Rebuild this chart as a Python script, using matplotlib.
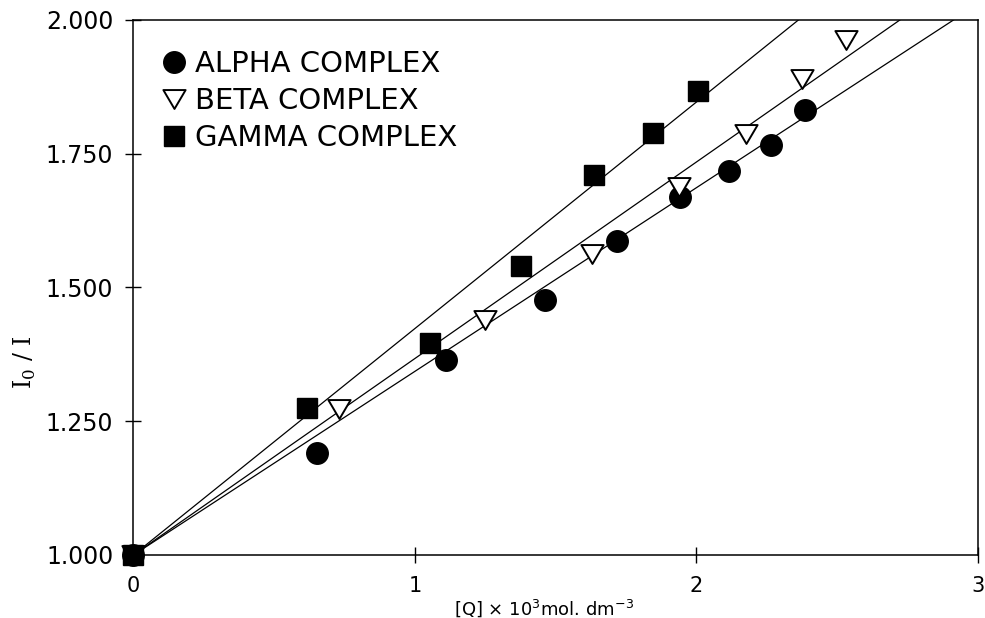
import matplotlib
matplotlib.use("Agg")
import matplotlib.pyplot as plt
from matplotlib.path import Path
import numpy as np

# Data
alpha_x = [0.0, 0.652, 1.111, 1.461, 1.719, 1.941, 2.116, 2.264, 2.385]
alpha_y = [1.000, 1.190, 1.364, 1.477, 1.587, 1.669, 1.718, 1.766, 1.832]
beta_x = [0.0, 0.729, 1.248, 1.628, 1.938, 2.178, 2.377, 2.534]
beta_y = [1.000, 1.272, 1.439, 1.563, 1.688, 1.787, 1.890, 1.962]
gamma_x = [0.0, 0.617, 1.053, 1.378, 1.638, 1.847, 2.006]
gamma_y = [1.000, 1.275, 1.396, 1.540, 1.710, 1.789, 1.867]
# Stern-Volmer slopes of the fitted lines (through 1.0 at origin)
ksv = {"alpha": 0.343, "beta": 0.367, "gamma": 0.423}
labels = ["ALPHA COMPLEX", "BETA COMPLEX", "GAMMA COMPLEX"]
xticks = [0, 1, 2, 3]
yticks = [1.000, 1.250, 1.500, 1.750, 2.000]
ytick_labels = ["1.000", "1.250", "1.500", "1.750", "2.000"]

fig = plt.figure(figsize=(9.85, 6.18), dpi=100)
ax = fig.add_axes([0.1355, 0.102, 0.857, 0.866])

xl = np.array([0.0, 3.0])
for k in ["alpha", "beta", "gamma"]:
    ax.plot(xl, 1 + ksv[k] * xl, color="black", lw=0.9, zorder=1)

tri = Path([(-1, 0.85), (1, 0.85), (0, -0.85), (-1, 0.85)],
           [Path.MOVETO, Path.LINETO, Path.LINETO, Path.CLOSEPOLY])
ax.plot(alpha_x, alpha_y, "o", color="black", ms=15.5, ls="none", zorder=3,
        label=labels[0], clip_on=False)
ax.plot(beta_x, beta_y, marker=tri, ls="none", ms=16, mfc="white", mec="black",
        mew=1.4, zorder=3, label=labels[1], clip_on=False)
ax.plot(gamma_x, gamma_y, "s", color="black", ms=14, ls="none", zorder=4,
        label=labels[2], clip_on=False)

ax.set_xlim(0, 3)
ax.set_ylim(1.0, 2.0)
ax.set_xticks(xticks)
ax.set_xticklabels([str(t) for t in xticks])
ax.set_yticks(yticks)
ax.set_yticklabels(ytick_labels)
ax.tick_params(axis="both", direction="inout", length=11, width=1.0, color="black")
ax.tick_params(axis="y", labelsize=17, pad=9)
ax.tick_params(axis="x", labelsize=15, pad=10)
for s in ax.spines.values():
    s.set_linewidth(1.1)

ax.set_xlabel(r"[Q] $\times$ 10$^3$mol. dm$^{-3}$", fontsize=13)
ax.xaxis.set_label_coords(0.486, -0.079)
ax.set_ylabel(r"I$_\mathregular{0}$ / I", fontsize=17, family="DejaVu Serif")
ax.yaxis.set_label_coords(-0.113, 0.36)

leg = ax.legend(loc="upper left", bbox_to_anchor=(0.019, 0.965), frameon=False,
                fontsize=21, handlelength=0.9, handletextpad=0.25,
                labelspacing=0.31, borderaxespad=0, markerscale=1.0)

fig.savefig("out.png", dpi=100)
